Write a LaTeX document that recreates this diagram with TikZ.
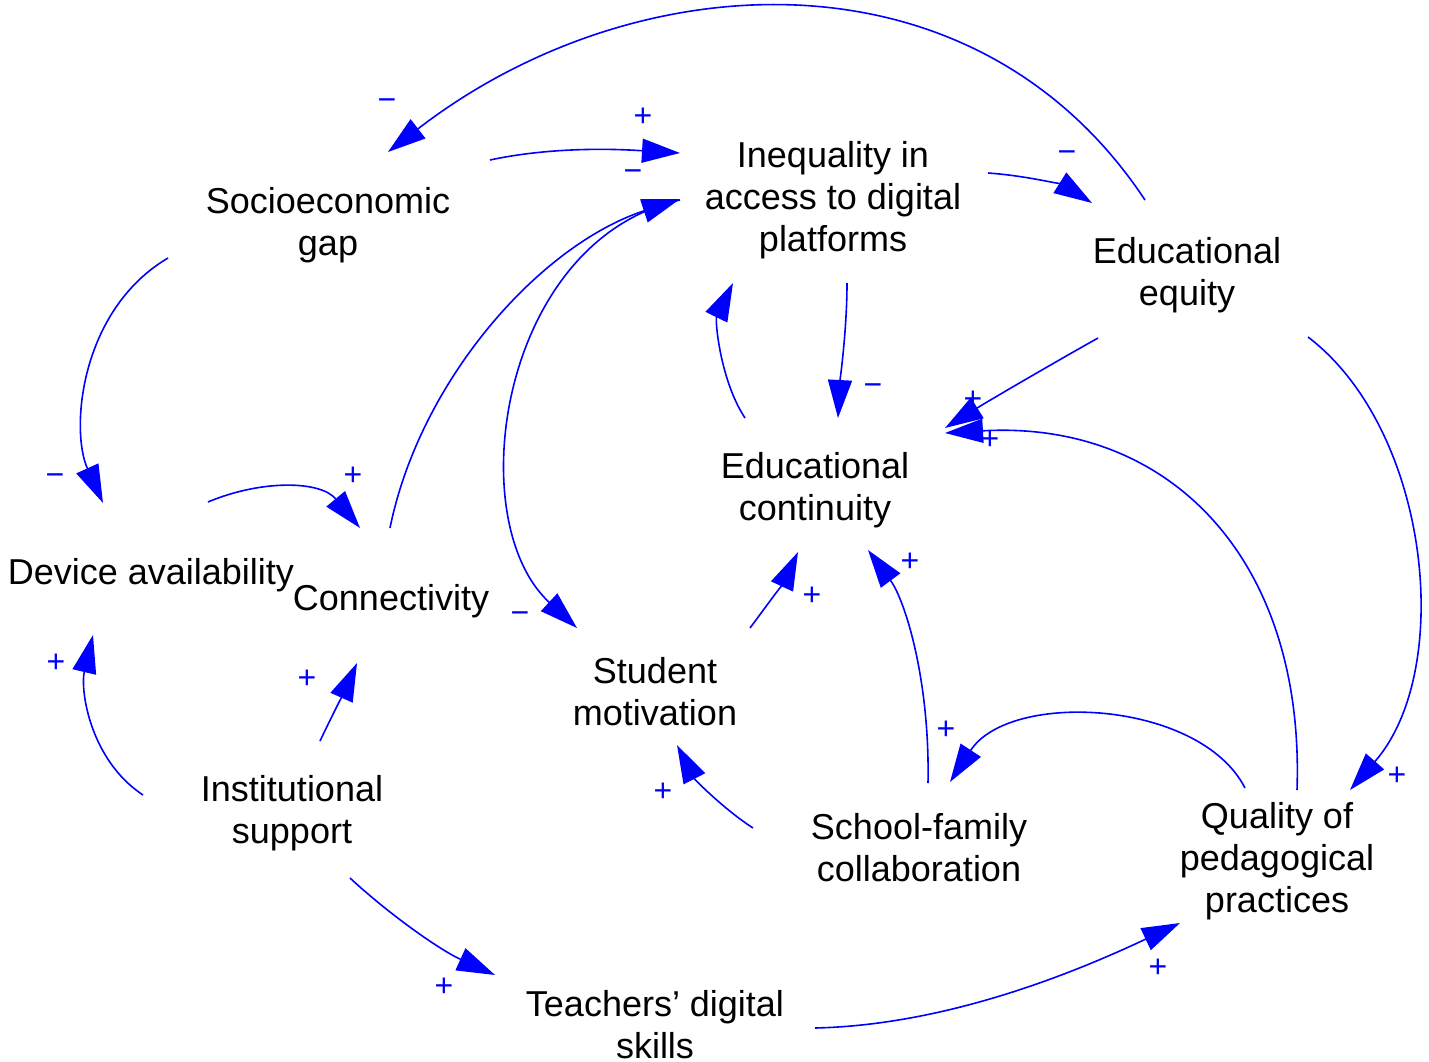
\documentclass[tikz,border=0pt]{standalone}
\usepackage{fontspec}
\setmainfont{Liberation Sans}
\usetikzlibrary{arrows.meta,calc}
\definecolor{lk}{RGB}{0,0,255}
\tikzset{
  var/.style={align=center,inner sep=0pt,text=black,font=\fontsize{36}{42}\selectfont},
  link/.style={draw=lk,line width=1.6pt,-{Triangle[length=38pt,width=24pt]}},
  sgn/.style={text=lk,inner sep=0pt,font=\fontsize{32}{32}\selectfont}
}
\begin{document}
\begin{tikzpicture}[x=1pt,y=-1pt]
\useasboundingbox (0,0) rectangle (1429,1062);
\fill[white] (0,0) rectangle (1429,1062);
% variables
\node[var] (soc) at (328,225) {Socioeconomic\\gap};
\node[var] (ineq) at (833,200) {Inequality in\\access to digital\\platforms};
\node[var] (equity) at (1187,275) {Educational\\equity};
\node[var] (device) at (151,575) {Device availability};
\node[var] (conn) at (391,601) {Connectivity};
\node[var] (cont) at (815,490) {Educational\\continuity};
\node[var] (motiv) at (655,692) {Student\\motivation};
\node[var] (inst) at (292,813) {Institutional\\support};
\node[var] (sfc) at (919,848) {School-family\\collaboration};
\node[var] (qual) at (1277,861) {Quality of\\pedagogical\\practices};
\node[var] (teach) at (655,1025) {Teachers’ digital\\skills};
% links
\draw[link] ($(equity)+(-42,-75)$) .. controls (974,-58) and (634,-38) .. ($(soc)+(60,-73)$);
\draw[link] ($(soc)+(162,-65)$) .. controls (560,145) and (630,150) .. ($(ineq)+(-153,-47)$);
\draw[link] ($(conn)+(-1,-73)$) .. controls (420,380) and (540,245) .. ($(ineq)+(-153,-1)$);
\draw[link] ($(ineq)+(-153,0)$) .. controls (500,240) and (460,520) .. ($(motiv)+(-78,-64)$);
\draw[link] ($(ineq)+(155,-27)$) .. controls (1030,176) and (1065,186) .. ($(equity)+(-95,-72)$);
\draw[link] ($(ineq)+(14,83)$) .. controls (847,330) and (840,380) .. ($(cont)+(23,-72)$);
\draw[link] ($(cont)+(-70,-72)$) .. controls (720,380) and (715,320) .. ($(ineq)+(-100,83)$);
\draw[link] ($(equity)+(-89,63)$) .. controls (1050,365) and (990,400) .. ($(cont)+(130,-62)$);
\draw[link] ($(qual)+(20,-71)$) .. controls (1305,560) and (1170,420) .. ($(cont)+(130,-57)$);
\draw[link] ($(equity)+(121,62)$) .. controls (1430,430) and (1455,670) .. ($(qual)+(73,-71)$);
\draw[link] ($(qual)+(-32,-73)$) .. controls (1200,700) and (1010,690) .. ($(sfc)+(31,-66)$);
\draw[link] ($(sfc)+(9,-65)$) .. controls (930,680) and (905,600) .. ($(cont)+(53,60)$);
\draw[link] ($(motiv)+(95,-64)$) .. controls (765,608) and (785,580) .. ($(cont)+(-17,62)$);
\draw[link] ($(sfc)+(-166,-20)$) .. controls (725,810) and (695,780) .. ($(motiv)+(22,53)$);
\draw[link] ($(inst)+(-149,-18)$) .. controls (90,760) and (80,690) .. ($(device)+(-58,60)$);
\draw[link] ($(inst)+(28,-72)$) .. controls (330,720) and (345,690) .. ($(conn)+(-34,62)$);
\draw[link] ($(inst)+(58,65)$) .. controls (390,915) and (440,950) .. ($(teach)+(-160,-50)$);
\draw[link] ($(teach)+(160,3)$) .. controls (950,1025) and (1080,970) .. ($(qual)+(-97,62)$);
\draw[link] ($(device)+(57,-73)$) .. controls (260,480) and (320,480) .. ($(conn)+(-31,-73)$);
\draw[link] ($(soc)+(-160,33)$) .. controls (80,310) and (70,430) .. ($(device)+(-48,-72)$);
% signs
\node[sgn] (s1) at (387,105) {−};
\node[sgn] (s2) at (643,117) {+};
\node[sgn] (s3) at (633,176) {−};
\node[sgn] (s4) at (520,618) {−};
\node[sgn] (s5) at (1067,157) {−};
\node[sgn] (s6) at (873,390) {−};
\node[sgn] (s7) at (973,400) {+};
\node[sgn] (s8) at (990,440) {+};
\node[sgn] (s9) at (1397,776) {+};
\node[sgn] (s10) at (946,730) {+};
\node[sgn] (s11) at (910,562) {+};
\node[sgn] (s12) at (812,596) {+};
\node[sgn] (s13) at (663,792) {+};
\node[sgn] (s14) at (56,663) {+};
\node[sgn] (s15) at (307,679) {+};
\node[sgn] (s16) at (444,987) {+};
\node[sgn] (s17) at (1158,968) {+};
\node[sgn] (s18) at (353,476) {+};
\node[sgn] (s19) at (55,480) {−};
\end{tikzpicture}
\end{document}
